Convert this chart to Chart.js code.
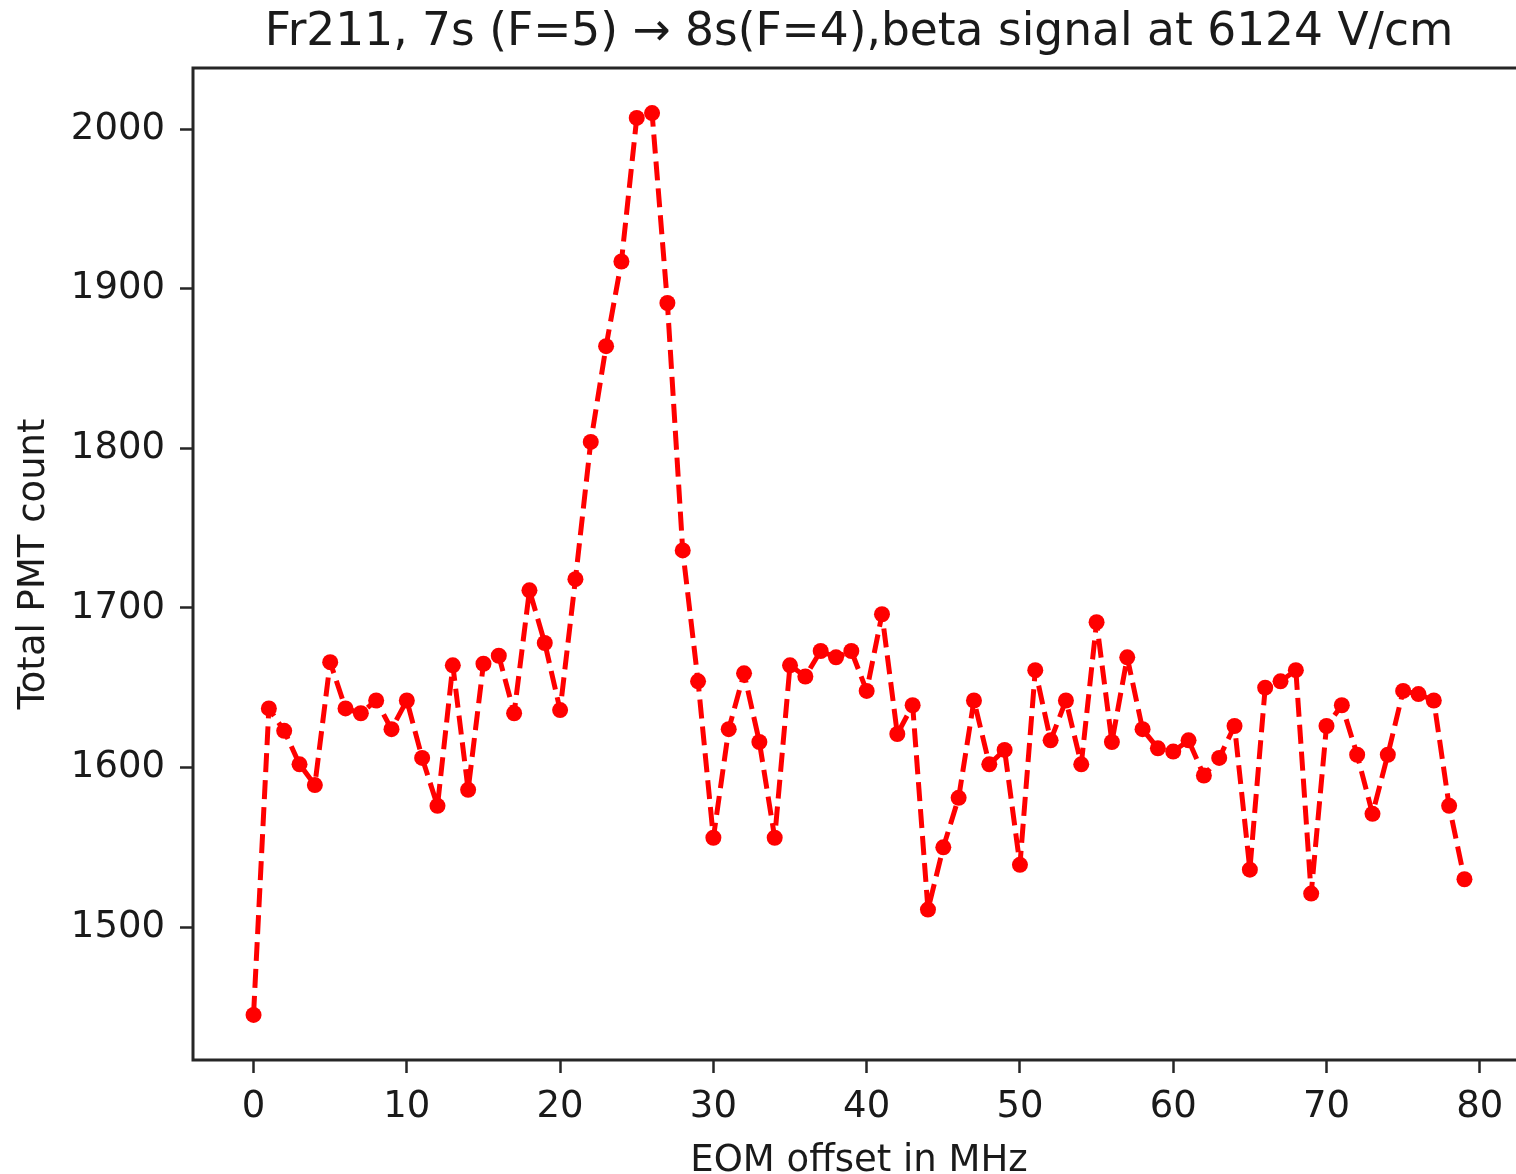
<!DOCTYPE html>
<html>
<head>
<meta charset="utf-8">
<script src="https://cdn.jsdelivr.net/npm/chart.js@4"></script>
<style>
  html, body { margin: 0; padding: 0; background: #ffffff; overflow: hidden; }
  #wrap { position: relative; width: 1540px; height: 1200px; }
</style>
</head>
<body>
<div id="wrap"><canvas id="c" width="1540" height="1200"></canvas></div>
<script>
// ---- data ----
const offsetsMHz = [
  0,1,2,3,4,5,6,7,8,9,
  10,11,12,13,14,15,16,17,18,19,
  20,21,22,23,24,25,26,27,28,29,
  30,31,32,33,34,35,36,37,38,39,
  40,41,42,43,44,45,46,47,48,49,
  50,51,52,53,54,55,56,57,58,59,
  60,61,62,63,64,65,66,67,68,69,
  70,71,72,73,74,75,76,77,78,79
];
const pmtCounts = [
  1445,1637,1623,1602,1589,1666,1637,1634,1642,1624,
  1642,1606,1576,1664,1586,1665,1670,1634,1711,1678,
  1636,1718,1804,1864,1917,2007,2010,1891,1736,1654,
  1556,1624,1659,1616,1556,1664,1657,1673,1669,1673,
  1648,1696,1621,1639,1511,1550,1581,1642,1602,1611,
  1539,1661,1617,1642,1602,1691,1616,1669,1624,1612,
  1610,1617,1595,1606,1626,1536,1650,1654,1661,1521,
  1626,1639,1608,1571,1608,1648,1646,1642,1576,1530
];
const xTickValues = [0,10,20,30,40,50,60,70,80];
const yTickValues = [1500,1600,1700,1800,1900,2000];
const chartTitle = 'Fr211, 7s (F=5) \u2192 8s(F=4),beta signal at 6124 V/cm';
const xAxisTitle = 'EOM offset in MHz';
const yAxisTitle = 'Total PMT count';

const points = offsetsMHz.map((x, i) => ({ x: x, y: pmtCounts[i] }));
const FONT = "'DejaVu Sans', sans-serif";
const INK = '#1a1a1a';

// frame (spines) and title centred over the axes, as in the original figure
const framePlugin = {
  id: 'frame',
  afterDatasetsDraw(chart) {
    const { ctx, chartArea: a } = chart;
    ctx.save();
    ctx.strokeStyle = '#262626';
    ctx.lineWidth = 3;
    ctx.beginPath();
    ctx.rect(a.left, a.top, a.right - a.left, a.bottom - a.top);
    ctx.stroke();
    ctx.fillStyle = INK;
    ctx.font = "45.5px " + FONT;
    ctx.textAlign = 'center';
    ctx.textBaseline = 'middle';
    ctx.fillText(chartTitle, (a.left + a.right) / 2, 33);
    ctx.restore();
  }
};

new Chart(document.getElementById('c'), {
  type: 'line',
  data: {
    datasets: [{
      data: points,
      borderColor: '#ff0000',
      backgroundColor: '#ff0000',
      borderWidth: 5,
      borderDash: [19, 8],
      borderJoinStyle: 'round',
      borderCapStyle: 'butt',
      pointRadius: 8,
      pointBorderWidth: 0,
      pointBackgroundColor: '#ff0000',
      tension: 0,
      fill: false
    }]
  },
  options: {
    responsive: false,
    animation: false,
    events: [],
    layout: { padding: { left: 0, right: 15, top: 68, bottom: 0 } },
    plugins: {
      legend: { display: false },
      tooltip: { enabled: false },
      title: { display: false }
    },
    scales: {
      x: {
        type: 'linear',
        min: -3.95,
        max: 82.95,
        afterBuildTicks: (s) => { s.ticks = xTickValues.map(v => ({ value: v })); },
        afterFit: (s) => { s.height = 140; },
        border: { display: false },
        grid: { drawOnChartArea: false, drawTicks: true, tickLength: 13, tickWidth: 2.5, tickColor: '#262626' },
        ticks: { color: INK, font: { family: FONT, size: 37 }, padding: 12, maxRotation: 0, autoSkip: false,
                 callback: (v) => String(v) },
        title: { display: true, text: xAxisTitle, color: INK, font: { family: FONT, size: 37, lineHeight: 1.2 }, padding: { top: 0, bottom: 16 } }
      },
      y: {
        type: 'linear',
        min: 1416.75,
        max: 2038.25,
        afterBuildTicks: (s) => { s.ticks = yTickValues.map(v => ({ value: v })); },
        afterFit: (s) => { s.width = 193; },
        border: { display: false },
        grid: { drawOnChartArea: false, drawTicks: true, tickLength: 13, tickWidth: 2.5, tickColor: '#262626' },
        ticks: { color: INK, font: { family: FONT, size: 37 }, padding: 15, autoSkip: false,
                 callback: (v) => String(v) },
        title: { display: true, text: yAxisTitle, color: INK, font: { family: FONT, size: 37, lineHeight: 1.2 }, padding: { top: 12, bottom: 0 } }
      }
    }
  },
  plugins: [framePlugin]
});
</script>
</body>
</html>
